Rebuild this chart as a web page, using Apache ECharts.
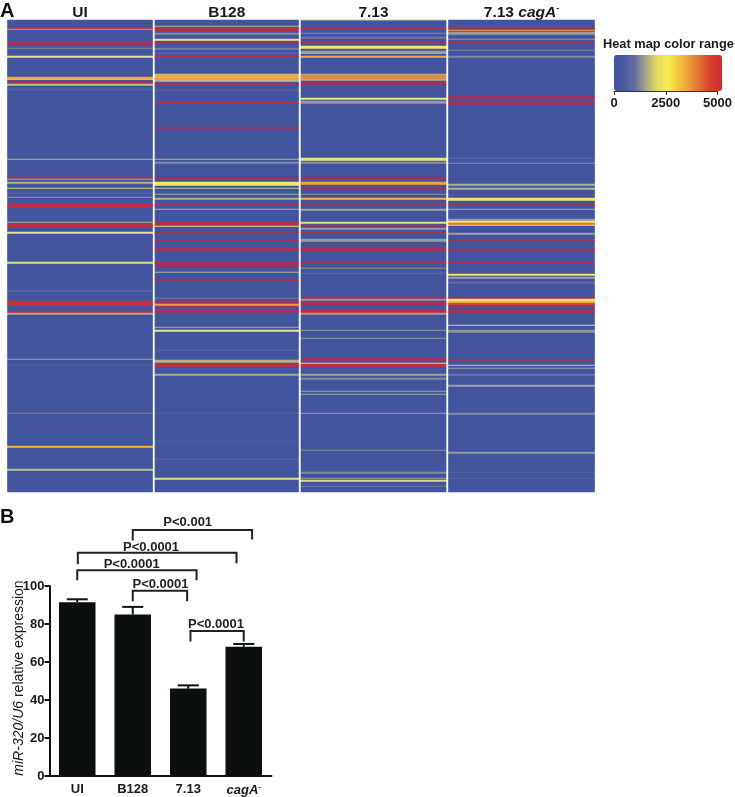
<!DOCTYPE html>
<html>
<head>
<meta charset="utf-8">
<style>html,body{margin:0;padding:0;background:#fff}#c{width:735px;height:797px;filter:blur(0.45px)}</style>
<script src="https://cdn.jsdelivr.net/npm/echarts@6/dist/echarts.min.js"></script>
</head>
<body>
<div id="c"></div>
<script>
// ---- Panel A: each band is [first row, last row, signal]; all other rows sit at the baseline
const panelNames = ['UI', 'B128', '7.13', '7.13 {i|cagA}{s|-}'];
const rowCount = 472;
const baseline = 40;
const bandsUI = [[7,8,5000],[9,9,3600],[22,25,5000],[28,28,900],[36,37,2050],[57,58,3400],[59,59,2500],[61,63,5000],[64,65,1700],[69,69,550],
 [139,139,1500],[157,158,5000],[159,159,1400],[162,163,1500],[168,168,1800],[173,173,500],[177,177,1100],[184,187,4700],[202,202,1500],[204,207,4700],[212,213,2000],
 [242,243,1950],[270,271,400],[281,285,4500],[291,292,4800],[293,294,1450],[339,339,1300],[345,345,350],[393,393,900],[426,427,3200],[449,450,1650]];
const bandsB128 = [[6,6,1500],[8,11,4800],[13,14,1050],[19,20,2000],[22,23,5000],[28,29,800],[33,33,500],[36,37,4800],
 [54,54,1700],[55,56,3400],[57,57,3000],[58,59,3500],[60,61,1600],[63,65,5000],[70,70,500],[82,83,4800],[107,108,5000],[139,139,1500],[142,143,1000],[158,159,5000],
 [162,165,2400],[168,168,1700],[174,174,1400],[178,179,1500],[184,185,5000],[189,189,1500],[202,205,4800],[206,206,1900],[212,213,5000],[220,221,5000],[228,229,4800],
 [230,230,5000],[242,246,5000],[252,252,1500],[260,261,5000],[278,278,700],[281,283,5000],[284,285,3500],[286,287,5000],[290,292,5000],[307,307,1400],[310,311,2000],
 [330,330,400],[340,340,1500],[341,341,3300],[342,342,1500],[344,346,4600],[354,355,1400],[393,393,350],[421,421,300],[439,439,350],[458,459,1950]];
const bands713 = [[0,0,1200],[8,9,5000],[13,13,1000],[17,18,700],[22,23,5000],[26,28,2250],[31,32,1200],[33,33,1700],[36,37,3300],
 [54,54,1400],[55,58,3700],[59,60,1400],[62,64,5000],[78,79,2000],[81,83,1200],[138,140,2000],[142,143,1100],[157,159,5000],[162,164,3400],[168,169,5000],[174,174,1100],
 [178,179,3100],[184,185,5000],[189,190,1400],[202,203,2000],[205,206,5000],[208,209,1200],[212,213,5000],[219,221,1250],[227,229,5000],
 [230,231,5000],[242,243,5000],[248,248,1000],[253,253,500],[277,278,5000],[279,280,1200],[282,285,5000],[290,292,4700],[293,294,1300],[310,310,1200],[318,318,1200],
 [338,340,5000],[343,343,1950],[344,346,4500],[354,355,1300],[358,359,1000],[371,371,1300],[374,374,1300],[393,393,1250],[430,430,1000],[452,453,1000],[458,458,1300],[460,461,1900],[466,466,800]];
const bandsCagA = [[7,9,5000],[10,10,3400],[12,14,1300],[19,19,1200],[22,23,5000],[30,30,900],[36,37,1000],[76,78,5000],[82,84,5000],[138,138,500],[143,143,1000],
 [164,165,1500],[168,169,1500],[175,175,4500],[178,180,2200],[184,185,5000],[189,189,1400],[199,200,1200],[201,202,2200],[203,204,3900],[205,205,2100],[213,214,1300],[220,221,5000],
 [229,231,5000],[242,243,5000],[254,255,2600],[257,258,1300],[262,263,500],[277,278,5000],[279,280,2200],[281,282,3000],[283,284,4300],[285,286,5000],[290,293,5000],
 [305,305,1800],[310,312,1150],[340,340,4900],[345,345,1700],[348,348,1300],[354,355,700],[365,366,1300],[393,394,1000],[432,433,1200],[452,452,350],[458,458,400]];
const panelBands = [bandsUI, bandsB128, bands713, bandsCagA];

// ---- Colour range legend
const heatTicks = [0, 2500, 5000];
const heatMax = 5000;

// ---- Panel B
const barCategories = ['UI', 'B128', '7.13', '{i|cagA}{s|-}'];
const barMeans = [91.5, 85, 46, 68];
const barUpper = [93, 89, 47.7, 69.5];
const yTicksMax = 100;
// [left end x, right end x, bar top y, left end y, right end y, label, label x, label y], in axis units
const significance = [
  [1.00, 3.15, 129.5, 124, 124.5, 'P<0.001', 1.99, 133.2],
  [0.01, 2.87, 117.5, 111.5, 112, 'P<0.0001', 1.33, 120.5],
  [0.00, 2.15, 108.3, 103, 103, 'P<0.0001', 0.98, 111.6],
  [1.00, 1.98, 97.5, 92, 92, 'P<0.0001', 1.50, 100.7],
  [2.04, 3.00, 76.3, 70.8, 70.8, 'P<0.0001', 2.50, 79.8]
];

const heatColors = ['#41539f','#5f679f','#85889e','#aeb090','#e4e488','#f5ec50','#f3c240','#ef9a3c','#e06a34','#cf2f30','#a33058'];
const rangeColors = ['#41539f','#4a5a9f','#6a709f','#aaaa85','#e0dc60','#f6ee4e','#f3c540','#ec9a38','#e06c34','#d63c30','#cf2a2e'];

const rows = Array.from({length: rowCount}, (_, i) => String(i));
function panelData(bands) {
  const v = new Array(rowCount).fill(baseline);
  bands.forEach(b => { for (let r = b[0]; r <= b[1]; r++) v[r] = b[2]; });
  return v.map((x, r) => [0, r, x]);
}

const panelBoxes = [[7.5,145],[155,143.5],[301,145],[448.5,146]];
const heatTop = 20, heatH = rowCount;
const FONT = '"Liberation Sans", Arial, sans-serif';
const grids = [], xAxes = [], yAxes = [], series = [];

panelBoxes.forEach((b, i) => {
  grids.push({left: b[0], top: heatTop, width: b[1], height: heatH});
  xAxes.push({type:'category', gridIndex:i, position:'top', data:[panelNames[i]],
    axisLine:{show:false}, axisTick:{show:false}, splitLine:{show:false},
    axisLabel:{margin:-1, interval:0, color:'#1a1a1a', fontFamily:FONT, fontWeight:'bold', fontSize:15.5,
      rich:{i:{fontStyle:'italic',fontWeight:'bold',fontSize:15.5,fontFamily:FONT,color:'#1a1a1a'},
            s:{fontSize:9,fontWeight:'bold',verticalAlign:'top',padding:[0,0,8,0],fontFamily:FONT,color:'#1a1a1a'}}}});
  yAxes.push({type:'category', gridIndex:i, inverse:true, data:rows, show:false});
  series.push({type:'heatmap', xAxisIndex:i, yAxisIndex:i, data:panelData(panelBands[i]), progressive:0, animation:false,
    emphasis:{disabled:true}, silent:true});
});

// Panel B grid (index 4)
grids.push({left:49.5, top:586, width:222, height:190});
xAxes.push({type:'category', gridIndex:4, data:barCategories,
  axisLine:{onZero:false, lineStyle:{color:'#111',width:2}}, axisTick:{show:false},
  axisLabel:{margin:7, interval:0, color:'#1a1a1a', fontFamily:FONT, fontWeight:'bold', fontSize:13,
    rich:{i:{fontStyle:'italic',fontWeight:'bold',fontSize:13,fontFamily:FONT,color:'#1a1a1a'},
          s:{fontSize:8,fontWeight:'bold',verticalAlign:'top',padding:[0,0,6,0],fontFamily:FONT,color:'#1a1a1a'}}}});
xAxes.push({type:'value', gridIndex:4, min:-0.5, max:3.5, show:false, splitLine:{show:false}});
yAxes.push({type:'value', gridIndex:4, min:0, max:yTicksMax, interval:20,
  axisLine:{show:true, onZero:false, lineStyle:{color:'#111',width:2}}, axisTick:{show:true, length:5, lineStyle:{color:'#111',width:2}},
  splitLine:{show:false},
  axisLabel:{margin:5, color:'#1a1a1a', fontFamily:FONT, fontWeight:'bold', fontSize:13},
  name:'{i|miR-320/U6} relative expression', nameLocation:'middle', nameGap:23, nameRotate:90, nameMoveOverlap:false,
  nameTextStyle:{fontFamily:FONT, fontSize:14, color:'#1a1a1a', padding:[0,0,0,6],
    rich:{i:{fontStyle:'italic',fontFamily:FONT,fontSize:14,color:'#1a1a1a'}}}});

// Legend axis grid (index 5)
grids.push({left:614, top:90, width:108, height:1});
xAxes.push({type:'value', gridIndex:5, min:0, max:heatMax, interval:2500, position:'bottom',
  axisLine:{show:true,onZero:false,lineStyle:{color:'#333',width:1}}, axisTick:{show:true,length:4,lineStyle:{color:'#333'}},
  splitLine:{show:false},
  axisLabel:{margin:6,color:'#1a1a1a',fontFamily:FONT,fontWeight:'bold',fontSize:13,
    formatter:v=>heatTicks.includes(v)?String(v):''}});
yAxes.push({type:'value', gridIndex:5, show:false, min:0, max:1});

series.push({type:'bar', xAxisIndex:4, yAxisIndex:4, data:barMeans, barWidth:36.5, itemStyle:{color:'#0b0f0f'}, silent:true, animation:false});
series.push({type:'custom', xAxisIndex:4, yAxisIndex:4, animation:false, silent:true,
  data:barMeans.map((m,i)=>[i,m,barUpper[i]]),
  renderItem:(p,api)=>{
    const a=api.coord([api.value(0),api.value(1)]), b=api.coord([api.value(0),api.value(2)]);
    const st={stroke:'#111',lineWidth:2,fill:null};
    return {type:'group',children:[
      {type:'line',shape:{x1:a[0],y1:a[1],x2:b[0],y2:b[1]},style:st},
      {type:'line',shape:{x1:b[0]-10.5,y1:b[1],x2:b[0]+10.5,y2:b[1]},style:st}]};
  }});
series.push({type:'custom', xAxisIndex:5, yAxisIndex:4, animation:false, silent:true, clip:false,
  data:significance.map(s=>s.slice(0,5)),
  renderItem:(p,api)=>{
    const s=significance[p.dataIndex];
    const l=api.coord([s[0],s[3]]), tl=api.coord([s[0],s[2]]), tr=api.coord([s[1],s[2]]), r=api.coord([s[1],s[4]]);
    const t=api.coord([s[6],s[7]]);
    return {type:'group',children:[
      {type:'polyline',shape:{points:[l,tl,tr,r]},style:{stroke:'#222',lineWidth:2,fill:null}},
      {type:'text',x:t[0],y:t[1],style:{text:s[5],fill:'#222',font:'bold 13px '+FONT,textAlign:'center',textVerticalAlign:'middle'}}]};
  }});
// range legend carrier
series.push({type:'scatter', xAxisIndex:6, yAxisIndex:5, data:[], silent:true});

const chart = echarts.init(document.getElementById('c'), null, {renderer:'canvas'});
chart.setOption({
  animation:false, backgroundColor:'#fff',
  title:[
    {text:'A',left:0,top:1,padding:0,textStyle:{fontFamily:FONT,fontWeight:'bold',fontSize:20,color:'#111'}},
    {text:'B',left:0,top:507,padding:0,textStyle:{fontFamily:FONT,fontWeight:'bold',fontSize:20,color:'#111'}},
    {text:'Heat map color range',left:603,top:38,padding:0,textStyle:{fontFamily:FONT,fontWeight:'bold',fontSize:12.8,color:'#1a1a1a'}}
  ],
  grid:grids, xAxis:xAxes, yAxis:yAxes, series:series,
  visualMap:[
    {type:'continuous',show:false,min:0,max:heatMax,seriesIndex:[0,1,2,3],dimension:2,inRange:{color:heatColors}},
    {type:'continuous',show:true,min:0,max:heatMax,seriesIndex:[7],orient:'horizontal',left:614,top:55,padding:0,
     itemWidth:36,itemHeight:108,calculable:false,showLabel:false,text:null,inRange:{color:rangeColors},textStyle:{fontSize:0}}
  ]
});
</script>
</body>
</html>
